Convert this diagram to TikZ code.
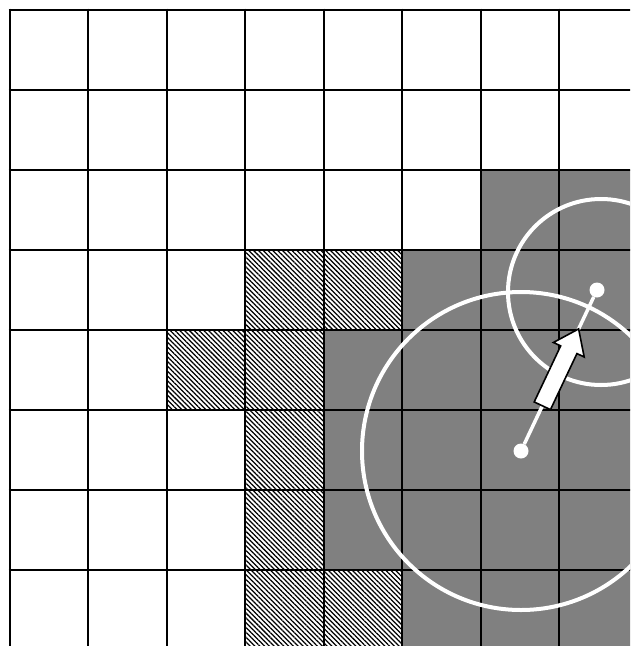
\documentclass[tikz,border=0pt]{standalone}
\usetikzlibrary{calc,patterns.meta}
\begin{document}
\begin{tikzpicture}[x=1pt,y=-1pt,
  graycell/.style={fill=gray},
  hatchcell/.style={pattern={Lines[angle=-45,distance=3.4pt,line width=1.25pt]}},
  gridline/.style={line width=2pt,black},
  ring/.style={draw=white,line width=4pt},
  dot/.style={circle,fill=white,inner sep=0pt,minimum size=15pt},
  link/.style={draw=white,line width=3.5pt},
  fatarrow/.style={fill=white,draw=black,line width=1.6pt,line join=miter}]
\useasboundingbox (0,0) rectangle (630,646);
\clip (0,0) rectangle (630,646);
% gray cells
\foreach \c/\r in {6/2,7/2,5/3,6/3,7/3,4/4,5/4,6/4,7/4,4/5,5/5,6/5,7/5,4/6,5/6,6/6,7/6,5/7,6/7,7/7}
  \fill[graycell] ({9.5+78.5*\c},{9.5+80*\r}) rectangle ++(78.5,80);
% hatched cells
\foreach \c/\r in {3/3,4/3,2/4,3/4,3/5,3/6,3/7,4/7}
  \fill[hatchcell] ({9.5+78.5*\c},{9.5+80*\r}) rectangle ++(78.5,80);
% grid
\foreach \c in {0,...,7}
  \draw[gridline] ({9.5+78.5*\c},8.5) -- ({9.5+78.5*\c},660);
\foreach \r in {0,...,7}
  \draw[gridline] (8.5,{9.5+80*\r}) -- (640,{9.5+80*\r});
% points
\node[dot] (p) at (521,451) {};
\node[dot] (q) at (597,290) {};
\coordinate (c2) at (601,292);
% circles
\draw[ring] (p) circle[radius=159pt];
\draw[ring] (c2) circle[radius=93pt];
% link
\draw[link] (p) -- (q);
% arrow
\coordinate (B) at ($(p)!50pt!(q)$);
\coordinate (H) at ($(p)!112pt!(q)$);
\coordinate (T) at ($(p)!135pt!(q)$);
\draw[fatarrow] ($(B)!9pt!90:(T)$) -- ($(H)!9pt!90:(T)$) -- ($(H)!17pt!90:(T)$) -- (T)
  -- ($(H)!17pt!-90:(T)$) -- ($(H)!9pt!-90:(T)$) -- ($(B)!9pt!-90:(T)$) -- cycle;
\end{tikzpicture}
\end{document}
